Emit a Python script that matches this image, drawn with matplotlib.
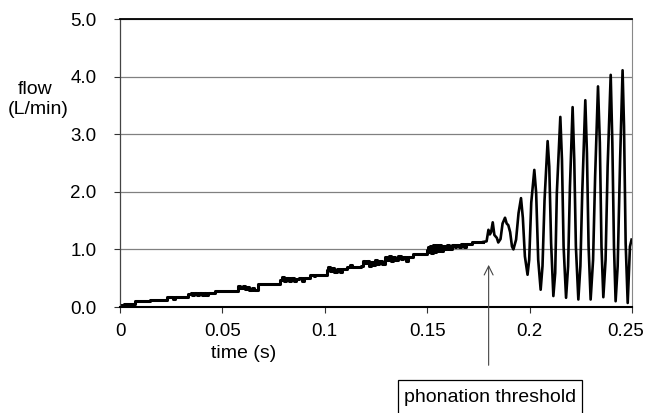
import matplotlib
matplotlib.use('Agg')
import matplotlib.pyplot as plt
from matplotlib.patches import Rectangle
from matplotlib.transforms import ScaledTranslation

plt.rcParams['font.family'] = ['Liberation Sans', 'DejaVu Sans']

# ---------------- data ----------------
# slowly rising (quantised, step-like) flow before phonation
ramp_t = [0.000, 0.002, 0.0073, 0.0146, 0.0228, 0.0260, 0.0270, 0.0334, 0.0345, 0.0352,
          0.0362, 0.0375, 0.0385, 0.0398, 0.0410, 0.0420, 0.0430, 0.0464, 0.0500, 0.0510,
          0.0578, 0.0586, 0.0600, 0.0610, 0.0620, 0.0632, 0.0645, 0.0655, 0.0675, 0.0780,
          0.0790, 0.0800, 0.0810, 0.0825, 0.0835, 0.0850, 0.0860, 0.0875, 0.0890, 0.0900,
          0.0928, 0.0945, 0.0950, 0.1009, 0.1015, 0.1025, 0.1035, 0.1045, 0.1060, 0.1075,
          0.1085, 0.1107, 0.1125, 0.1135, 0.1150, 0.1175, 0.1188, 0.1196, 0.1205, 0.1215,
          0.1225, 0.1235, 0.1245, 0.1255, 0.1265, 0.1280, 0.1294, 0.1305, 0.1315, 0.1325,
          0.1335, 0.1345, 0.1355, 0.1370, 0.1380, 0.1395, 0.1405, 0.1432, 0.1497, 0.1502,
          0.1508, 0.1514, 0.1520, 0.1528, 0.1535, 0.1542, 0.1550, 0.1558, 0.1566, 0.1575,
          0.1585, 0.1595, 0.1605, 0.1620, 0.1635, 0.1642, 0.1655, 0.1665, 0.1680, 0.1690,
          0.1717, 0.1774]
ramp_v = [0.03, 0.05, 0.10, 0.13, 0.17, 0.14, 0.17, 0.22, 0.25, 0.21,
          0.24, 0.20, 0.24, 0.21, 0.24, 0.20, 0.24, 0.28, 0.27, 0.28,
          0.36, 0.33, 0.36, 0.31, 0.34, 0.30, 0.33, 0.29, 0.40, 0.47,
          0.52, 0.45, 0.50, 0.46, 0.51, 0.45, 0.49, 0.50, 0.46, 0.50,
          0.56, 0.53, 0.56, 0.64, 0.69, 0.62, 0.67, 0.60, 0.66, 0.61,
          0.66, 0.70, 0.73, 0.69, 0.70, 0.72, 0.79, 0.76, 0.80, 0.72,
          0.78, 0.73, 0.82, 0.75, 0.80, 0.74, 0.86, 0.82, 0.88, 0.80,
          0.87, 0.81, 0.89, 0.83, 0.87, 0.80, 0.86, 0.92, 0.99, 1.05,
          0.95, 1.06, 0.94, 1.07, 0.96, 1.07, 0.97, 1.08, 0.98, 1.06,
          1.00, 1.07, 1.01, 1.08, 1.04, 1.08, 1.04, 1.09, 1.05, 1.10,
          1.13, 1.13]

# oscillating flow after the phonation threshold
osc_t = [0.1774, 0.1790, 0.1799, 0.1806, 0.1812, 0.1820, 0.1828, 0.1840, 0.1847, 0.1858,
         0.1868, 0.1880, 0.1888, 0.1896, 0.1905, 0.1914, 0.1921, 0.1934, 0.1946, 0.1958,
         0.1967, 0.1977, 0.1990, 0.1998, 0.2008, 0.2023, 0.2032, 0.2042, 0.2054, 0.2063,
         0.2073, 0.2088, 0.2096, 0.2105, 0.2116, 0.2125, 0.2133, 0.2150, 0.2158, 0.2166,
         0.2178, 0.2188, 0.2197, 0.2210, 0.2218, 0.2226, 0.2238, 0.2248, 0.2257, 0.2272,
         0.2280, 0.2288, 0.2298, 0.2310, 0.2320, 0.2334, 0.2343, 0.2351, 0.2360, 0.2371,
         0.2381, 0.2396, 0.2404, 0.2412, 0.2420, 0.2430, 0.2442, 0.2454, 0.2461, 0.2469,
         0.2479, 0.2490, 0.2498]
osc_v = [1.13, 1.14, 1.34, 1.26, 1.30, 1.47, 1.25, 1.20, 1.12, 1.18,
         1.45, 1.55, 1.45, 1.42, 1.30, 1.05, 1.00, 1.17, 1.63, 1.89,
         1.55, 0.88, 0.56, 0.82, 1.81, 2.38, 1.98, 0.82, 0.30, 0.71,
         1.86, 2.88, 2.44, 1.11, 0.19, 0.59, 1.98, 3.30, 2.56, 1.05,
         0.16, 0.71, 2.09, 3.47, 2.56, 1.05, 0.13, 0.71, 1.98, 3.59,
         2.67, 1.05, 0.13, 0.82, 2.27, 3.83, 2.85, 1.05, 0.17, 0.82,
         2.44, 4.03, 2.85, 1.05, 0.10, 0.71, 2.56, 4.11, 3.14, 1.11,
         0.07, 1.05, 1.17]

x_ticks = [0, 0.05, 0.1, 0.15, 0.2, 0.25]
x_tick_labels = ['0', '0.05', '0.1', '0.15', '0.2', '0.25']
y_ticks = [0, 1, 2, 3, 4, 5]
y_tick_labels = ['0.0', '1.0', '2.0', '3.0', '4.0', '5.0']
threshold_time = 0.18
threshold_label = 'phonation threshold'

# ---------------- figure ----------------
fig = plt.figure(figsize=(6.45, 4.13), dpi=100)
ax = fig.add_axes([120 / 645, 1 - 307 / 413, 512 / 645, 288 / 413])

ax.plot(ramp_t, ramp_v, drawstyle='steps-post', color='black', lw=2.2)
ax.plot(osc_t, osc_v, color='black', lw=1.9)

ax.set_xlim(0, 0.25)
ax.set_ylim(0, 5)
ax.set_xticks(x_ticks)
ax.set_xticklabels(x_tick_labels)
ax.set_yticks(y_ticks)
ax.set_yticklabels(y_tick_labels)
ax.grid(axis='y', color='#808080', lw=0.9)
ax.set_axisbelow(True)
ax.tick_params(axis='both', direction='out', length=4, width=0.8,
               color='#333333', labelsize=13.5)
ax.tick_params(axis='y', pad=13)
ax.tick_params(axis='x', pad=7.5)

# keep the last x tick label inside the picture, as in the reference
last = ax.get_xticklabels()[-1]
last.set_horizontalalignment('right')
last.set_transform(last.get_transform() + ScaledTranslation(12 / 100, 0, fig.dpi_scale_trans))

ax.spines['top'].set_linewidth(1.3)
ax.spines['bottom'].set_linewidth(1.5)
ax.spines['left'].set_linewidth(0.9)
ax.spines['left'].set_color('#444444')
ax.spines['right'].set_linewidth(0.8)
ax.spines['right'].set_color('#888888')

fig.text(35 / 645, 1 - 89 / 413, 'flow', fontsize=14, ha='center', va='center')
fig.text(38.5 / 645, 1 - 109 / 413, '(L/min)', fontsize=14, ha='center', va='center')
fig.text(244 / 645, 1 - 353 / 413, 'time (s)', fontsize=14, ha='center', va='center')

ax.annotate('', xy=(threshold_time, 0.78), xycoords='data',
            xytext=(threshold_time, -1.06), textcoords='data',
            arrowprops=dict(arrowstyle='->', color='#444444', lw=0.8,
                            mutation_scale=16),
            annotation_clip=False)

fig.patches.append(Rectangle((398 / 645, -0.05), 184 / 645, (1 - 380 / 413) + 0.05,
                             transform=fig.transFigure, fill=False,
                             ec='black', lw=0.9))
fig.text(490 / 645, 1 - 397 / 413, threshold_label, fontsize=14,
         ha='center', va='center')

fig.savefig('out.png', dpi=100)
